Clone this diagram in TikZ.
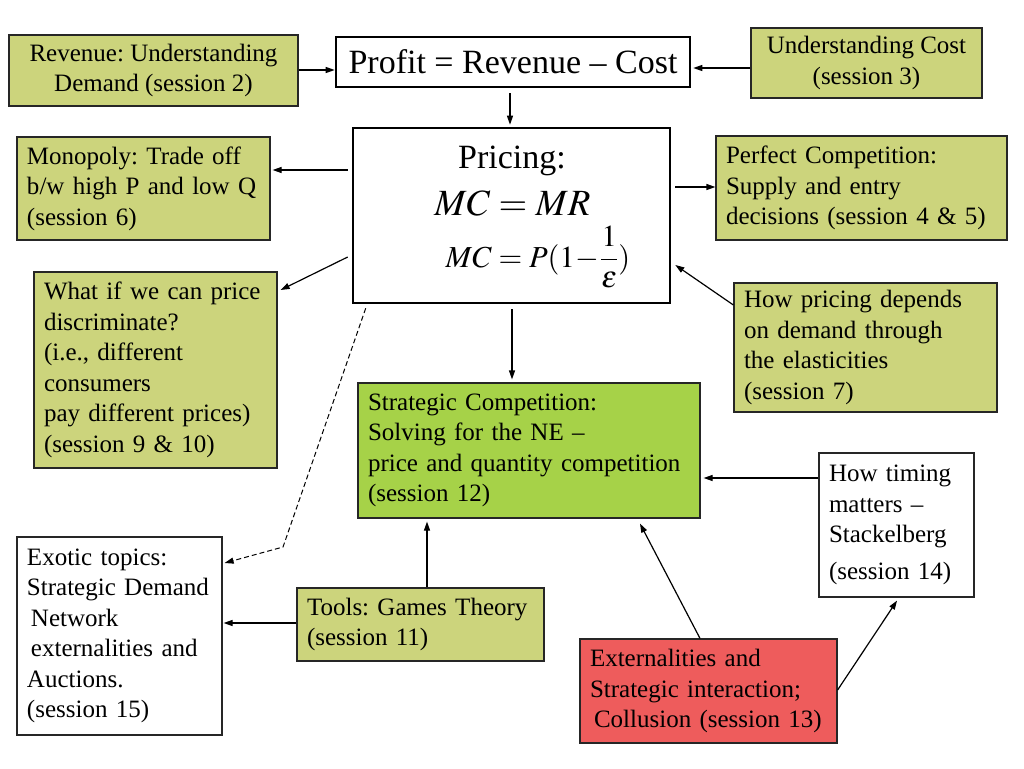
\documentclass[tikz,border=0pt]{standalone}
\usepackage{mathptmx}
\usepackage[no-math]{fontspec}
\setmainfont{Liberation Serif}
\usetikzlibrary{arrows.meta,calc}
\frenchspacing
\definecolor{olivefill}{RGB}{204,212,124}
\definecolor{greenfill}{RGB}{166,210,72}
\definecolor{redfill}{RGB}{238,92,92}
\tikzset{
  box/.style={draw=black!85, line width=1.2pt, inner xsep=10pt, inner ysep=0pt, font=\fontsize{25}{30.5}\selectfont},
  olivebox/.style={box, fill=olivefill},
  greenbox/.style={box, fill=greenfill},
  redbox/.style={box, fill=redfill},
  whitebox/.style={box, fill=white},
  thickbox/.style={draw=black, line width=2.6pt, fill=white, inner sep=0pt},
  arr/.style={-{Triangle[length=9pt,width=6pt]}, line width=1.2pt},
  bigtext/.style={font=\fontsize{34}{38}\selectfont, inner sep=0pt}
}
\begin{document}
\frenchspacing
\begin{tikzpicture}[x=1pt,y=-1pt]
\useasboundingbox[fill=white] (0,0) rectangle (1024,768);

% top row
\node[olivebox, align=center, minimum width=289pt, minimum height=71pt] (rev) at (153.5,70.5) {Revenue: Understanding\\Demand (session 2)};
\node[thickbox, minimum width=354pt, minimum height=50pt, font=\fontsize{34}{38}\selectfont] (profit) at (513,62) {Profit = Revenue – Cost};
\node[olivebox, align=center, minimum width=231pt, minimum height=70pt] (cost) at (866.5,63) {Understanding Cost\\(session 3)};

% pricing
\node[thickbox, minimum width=317pt, minimum height=175pt] (pricing) at (511.5,215.5) {};
\node[bigtext, anchor=base] (ptitle) at (512,168) {Pricing:};
\node[inner sep=0pt, anchor=base, font=\fontsize{37}{40}\selectfont] (pmc) at (512.5,215) {$MC = MR$};
\node[inner sep=0pt, anchor=base, font=\fontsize{30.5}{32}\selectfont] (pform) at (538,267) {$MC = P(1\!-\!{\displaystyle\frac{1}{\varepsilon}})$};

% side boxes
\node[olivebox, align=left, text width=233pt, minimum width=253pt, minimum height=103pt] (mono) at (143.5,188.5) {Monopoly: Trade off\\b/w high P and low Q\\(session 6)};
\node[olivebox, align=left, text width=271pt, minimum width=291pt, minimum height=104pt] (perf) at (861.5,188) {Perfect Competition:\\Supply and entry\\decisions (session 4 \& 5)};
\node[olivebox, align=left, text width=223pt, minimum width=243pt, minimum height=196pt] (whatif) at (155.5,370) {What if we can price\\discriminate?\\(i.e., different\\consumers\\pay different prices)\\(session 9 \& 10)};
\node[olivebox, align=left, text width=243pt, minimum width=263pt, minimum height=129pt] (howpr) at (865.5,347.5) {How pricing depends\\on demand through\\the elasticities\\(session 7)};
\node[greenbox, align=left, text width=322pt, minimum width=342pt, minimum height=135pt] (strat) at (529,450.5) {Strategic Competition:\\Solving for the NE –\\price and quantity competition\\(session 12)};
\node[whitebox, align=left, text width=135pt, minimum width=155pt, minimum height=144pt] (timing) at (896.5,525) {How timing\\matters –\\Stackelberg\\[6pt](session 14)};
\node[whitebox, align=left, text width=185pt, minimum width=205pt, minimum height=198pt] (exotic) at (119.5,636) {Exotic topics:\\Strategic Demand\\\hspace*{4pt}Network\\\hspace*{4pt}externalities and\\Auctions.\\(session 15)};
\node[olivebox, align=left, text width=227pt, minimum width=247pt, minimum height=73pt] (tools) at (420.5,624.5) {Tools: Games Theory\\(session 11)};
\node[redbox, align=left, text width=237pt, minimum width=257pt, minimum height=104pt] (ext) at (708.5,691) {Externalities and\\Strategic interaction;\\\hspace*{4pt}Collusion (session 13)};

% connectors
\draw[arr] (rev.east |- 0,70) -- (profit.west |- 0,70);
\draw[arr] (cost.west |- 0,68) -- ([xshift=2pt]profit.east |- 0,68);
\draw[arr] ([yshift=-5pt]profit.south -| 510,0) -- ([yshift=2pt]pricing.north -| 510,0);
\draw[arr] ([xshift=-4pt]pricing.west |- 0,170) -- ([xshift=2pt]mono.east |- 0,170);
\draw[arr] ([xshift=4pt]pricing.east |- 0,187) -- (perf.west |- 0,187);
\draw[arr] ([xshift=-4pt]pricing.west |- 0,257) -- ([xshift=3pt]whatif.east |- 0,290);
\draw[arr] (howpr.west |- 0,305) -- ([xshift=4pt]pricing.east |- 0,265);
\draw[arr] ([yshift=-5pt]pricing.south -| 512,0) -- ([yshift=3pt]strat.north -| 512,0);
\coordinate (bend) at (283,547);
\draw[arr, line width=1pt, dash pattern=on 5pt off 3pt] ([xshift=14pt,yshift=-4pt]pricing.south west) -- (bend) -- ([xshift=2pt]exotic.east |- 0,563);
\draw[arr] (timing.west |- 0,478) -- ([xshift=3pt]strat.east |- 0,478);
\draw[arr] (tools.north -| 427,0) -- ([yshift=-3pt]strat.south -| 427,0);
\draw[arr] (tools.west |- 0,623) -- ([xshift=1pt]exotic.east |- 0,623);
\draw[arr] (ext.north -| 700,0) -- ([yshift=-5pt]strat.south -| 640,0);
\draw[arr] (ext.east |- 0,690) -- ([yshift=-3pt]timing.south -| 897,0);
\end{tikzpicture}
\end{document}
